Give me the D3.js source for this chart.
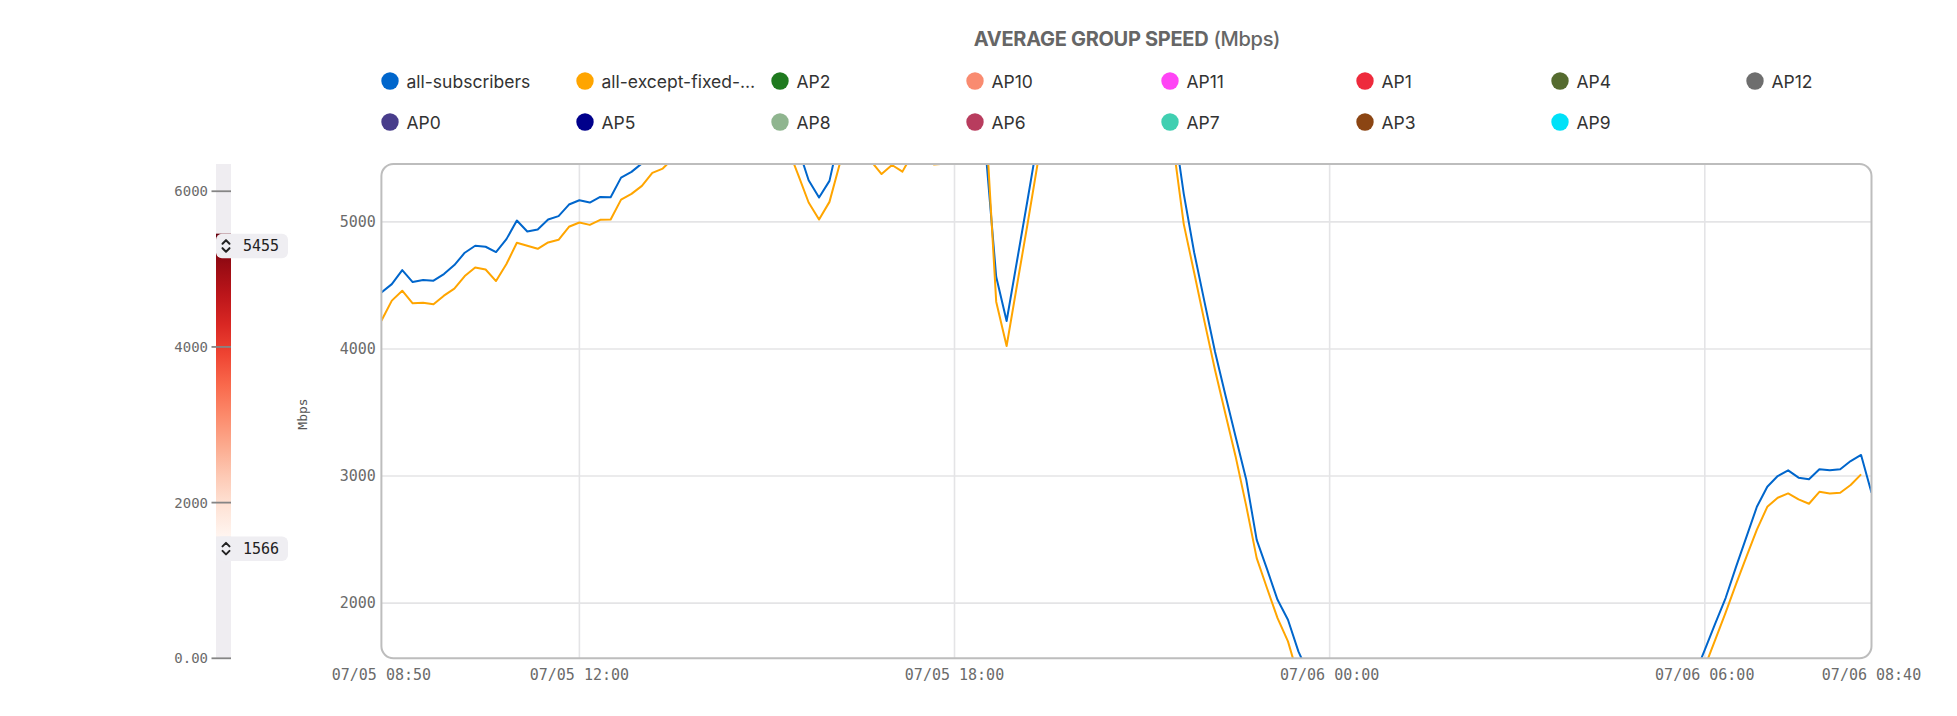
<!DOCTYPE html>
<html>
<head>
<meta charset="utf-8">
<script src="https://cdn.jsdelivr.net/npm/d3@7"></script>
<style>
  body { margin: 0; background: #fff; }
  svg { display: block; }
</style>
</head>
<body>
<svg id="chart" width="1957" height="716"></svg>
<script>
// ---------------- DATA ----------------
const startTime = "2024-07-05T08:50:00";
const stepMinutes = 10;

const legendNames = ["all-subscribers", "all-except-fixed-…", "AP2", "AP10", "AP11", "AP1", "AP4", "AP12",
                     "AP0", "AP5", "AP8", "AP6", "AP7", "AP3", "AP9"];
const legendColors = ["#0066cc", "#ffa500", "#1f7a1f", "#f98b70", "#ff44f5", "#ee2a3c", "#556b2f", "#6e6e6e",
                      "#483d8b", "#00008b", "#8fb58f", "#b83c5e", "#40cfb1", "#8b4513", "#00e1f8"];

const allSubscribers = [
  4445, 4510, 4620, 4526, 4542, 4537, 4589, 4660, 4757, 4812,
  4804, 4762, 4864, 5010, 4924, 4940, 5018, 5045, 5136, 5170,
  5152, 5196, 5194, 5348, 5393, 5460, 5540, 5620, 5700, 5770,
  5830, 5890, 5940, 5990, 6030, 6060, 6010, 5930, 5830, 5700,
  5580, 5327, 5191, 5322, 5690, 5730, 5710, 5650, 5550, 5620,
  5560, 5700, 5660, 5620, 5630, 5710, 5790, 5850, 5545, 4568,
  4220, 4694, 5168, 5650, 5850, 5980, 6100, 6200, 6280, 6330,
  6350, 6320, 6270, 6200, 6100, 5960, 5790, 5220, 4759, 4366,
  3978, 3635, 3302, 2970, 2498, 2265, 2026, 1869, 1620, 1440,
  1290, 1160, 1050, 950, 870, 800, 740, 690, 640, 600,
  570, 540, 510, 490, 470, 450, 440, 430, 425, 420,
  420, 430, 445, 460, 490, 520, 560, 610, 670, 740,
  820, 900, 990, 1090, 1200, 1310, 1430, 1632, 1838, 2040,
  2285, 2521, 2758, 2916, 3000, 3045, 2987, 2974, 3053, 3045,
  3053, 3118, 3166, 2868
];

const allExceptFixed = [
  4222, 4380, 4458, 4359, 4364, 4351, 4419, 4474, 4573, 4641,
  4625, 4534, 4668, 4835, 4812, 4788, 4838, 4859, 4961, 4995,
  4976, 5016, 5018, 5175, 5220, 5283, 5385, 5419, 5500, 5580,
  5650, 5710, 5770, 5820, 5860, 5890, 5840, 5770, 5680, 5580,
  5370, 5152, 5018, 5157, 5460, 5560, 5540, 5476, 5376, 5447,
  5395, 5540, 5490, 5452, 5456, 5540, 5620, 5700, 5800, 4372,
  4023, 4503, 4979, 5470, 5650, 5780, 5900, 6000, 6080, 6120,
  6140, 6110, 6060, 5990, 5880, 5760, 5600, 4982, 4599, 4211,
  3834, 3488, 3145, 2763, 2354, 2115, 1882, 1699, 1420, 1270,
  1140, 1020, 920, 840, 770, 710, 660, 610, 570, 540,
  510, 480, 460, 440, 420, 405, 395, 385, 380, 375,
  375, 385, 395, 410, 435, 465, 500, 545, 590, 650,
  720, 790, 870, 960, 1060, 1170, 1290, 1498, 1711, 1926,
  2150, 2366, 2579, 2758, 2829, 2863, 2816, 2782, 2876, 2863,
  2868, 2929, 3013, null
];

const brushRange = [1566, 5455];
const yTicks = [2000, 3000, 4000, 5000];
const barTicks = [0, 2000, 4000, 6000];
const barTickLabels = ["0.00", "2000", "4000", "6000"];
const xGridHours = ["2024-07-05T12:00:00", "2024-07-05T18:00:00", "2024-07-06T00:00:00", "2024-07-06T06:00:00"];

// ---------------- SETUP ----------------
const svg = d3.select("#chart");
const mono = "'DejaVu Sans Mono', monospace";
const sans = "Inter, 'Noto Sans', sans-serif";

const t0 = new Date(startTime);
const times = allSubscribers.map((_, i) => d3.timeMinute.offset(t0, i * stepMinutes));
const series = [
  { name: legendNames[0], color: legendColors[0], values: allSubscribers },
  { name: legendNames[1], color: legendColors[1], values: allExceptFixed }
];

const plot = { left: 381.4, right: 1871.5, top: 164, bottom: 658.3 };
const x = d3.scaleTime().domain([times[0], times[times.length - 1]]).range([plot.left, plot.right]);
const y = d3.scaleLinear().domain(brushRange).range([plot.bottom, plot.top]);

// ---------------- TITLE ----------------
const title = svg.append("text")
  .attr("x", 1127).attr("y", 40.5)
  .attr("text-anchor", "middle").attr("dominant-baseline", "middle")
  .attr("font-family", sans).attr("font-size", 20).attr("fill", "#666")
  .attr("letter-spacing", -0.3);
title.append("tspan").attr("font-weight", 700).text("AVERAGE GROUP SPEED");
title.append("tspan").attr("font-weight", 500).text(" (Mbps)");

// ---------------- LEGEND ----------------
const legend = svg.append("g");
legendNames.forEach((name, i) => {
  const col = i % 8, row = Math.floor(i / 8);
  const g = legend.append("g").attr("transform", `translate(${390 + col * 195},${81 + row * 41})`);
  g.append("circle").attr("r", 8.7).attr("fill", legendColors[i]);
  g.append("text").attr("x", 16.5).attr("y", 0).attr("dominant-baseline", "central")
    .attr("font-family", sans).attr("font-size", 17.5).attr("fill", "#333").text(name);
});

// ---------------- GRID ----------------
const grid = svg.append("g");
grid.selectAll(".hg").data(yTicks).join("line")
  .attr("x1", plot.left).attr("x2", plot.right)
  .attr("y1", d => y(d)).attr("y2", d => y(d))
  .attr("stroke", "#e4e4e6").attr("stroke-width", 1.6);
grid.selectAll(".vg").data(xGridHours.map(s => new Date(s))).join("line")
  .attr("x1", d => x(d)).attr("x2", d => x(d))
  .attr("y1", plot.top).attr("y2", plot.bottom)
  .attr("stroke", "#e4e4e6").attr("stroke-width", 1.6);

// ---------------- LINES ----------------
svg.append("defs").append("clipPath").attr("id", "clip")
  .append("rect").attr("x", plot.left).attr("y", plot.top)
  .attr("width", plot.right - plot.left).attr("height", plot.bottom - plot.top);

const line = d3.line()
  .defined(d => d.v != null)
  .x(d => x(d.t)).y(d => y(d.v));

const lines = svg.append("g").attr("clip-path", "url(#clip)");
series.forEach(s => {
  lines.append("path")
    .datum(s.values.map((v, i) => ({ t: times[i], v })))
    .attr("fill", "none").attr("stroke", s.color).attr("stroke-width", 2)
    .attr("stroke-linejoin", "round")
    .attr("d", line);
});

// border
svg.append("rect")
  .attr("x", plot.left).attr("y", plot.top)
  .attr("width", plot.right - plot.left).attr("height", plot.bottom - plot.top)
  .attr("rx", 12).attr("fill", "none").attr("stroke", "#bdbdbd").attr("stroke-width", 2);

// ---------------- AXES ----------------
const yAxis = svg.append("g");
yAxis.selectAll("text").data(yTicks).join("text")
  .attr("x", plot.left - 5.5).attr("y", d => y(d))
  .attr("text-anchor", "end").attr("dominant-baseline", "central")
  .attr("font-family", mono).attr("font-size", 15).attr("fill", "#6b6b6b")
  .text(d => d);

const fmt = d3.timeFormat("%m/%d %H:%M");
const xTickDates = [times[0], ...xGridHours.map(s => new Date(s)), times[times.length - 1]];
svg.append("g").selectAll("text").data(xTickDates).join("text")
  .attr("x", d => x(d)).attr("y", 675)
  .attr("text-anchor", "middle").attr("dominant-baseline", "central")
  .attr("font-family", mono).attr("font-size", 15).attr("fill", "#6b6b6b")
  .text(d => fmt(d));

// ---------------- COLOR BAR ----------------
const dataMax = d3.max([...allSubscribers, ...allExceptFixed]);
const cb = { x: 216, w: 15 };
const cy = d3.scaleLinear().domain([0, dataMax]).range([plot.bottom, plot.top]);
const color = d3.scaleSequential(d3.interpolateReds).domain(brushRange);

const grad = svg.select("defs").append("linearGradient").attr("id", "cbgrad")
  .attr("x1", 0).attr("x2", 0).attr("y1", 1).attr("y2", 0);
d3.range(0, 1.0001, 0.1).forEach(f => {
  grad.append("stop").attr("offset", f)
    .attr("stop-color", color(brushRange[0] + f * (brushRange[1] - brushRange[0])));
});

svg.append("rect").attr("x", cb.x).attr("y", cy(dataMax)).attr("width", cb.w)
  .attr("height", cy(0) - cy(dataMax)).attr("fill", "#efedf1");
svg.append("rect").attr("x", cb.x).attr("y", cy(brushRange[1])).attr("width", cb.w)
  .attr("height", cy(brushRange[0]) - cy(brushRange[1])).attr("fill", "url(#cbgrad)");

const cbt = svg.append("g");
barTicks.forEach((v, i) => {
  cbt.append("line").attr("x1", 211.5).attr("x2", cb.x + cb.w).attr("y1", cy(v)).attr("y2", cy(v))
    .attr("stroke", "#858585").attr("stroke-width", 1.8);
  cbt.append("text").attr("x", 208).attr("y", cy(v))
    .attr("text-anchor", "end").attr("dominant-baseline", "central")
    .attr("font-family", mono).attr("font-size", 14).attr("fill", "#6b6b6b")
    .text(barTickLabels[i]);
});

// handles
brushRange.forEach(v => {
  const top = cy(v);
  const g = svg.append("g").attr("transform", `translate(${cb.x},${top})`);
  g.append("rect").attr("x", 0).attr("y", 0).attr("width", 72).attr("height", 24.5)
    .attr("rx", 6).attr("fill", "#efeef2");
  g.append("path").attr("d", "M6.5,10 L10,6.5 L13.5,10 M6.5,14.5 L10,18 L13.5,14.5")
    .attr("fill", "none").attr("stroke", "#222").attr("stroke-width", 2)
    .attr("stroke-linecap", "round").attr("stroke-linejoin", "round");
  g.append("text").attr("x", 27).attr("y", 12.5).attr("dominant-baseline", "central")
    .attr("font-family", mono).attr("font-size", 15).attr("fill", "#222").text(v);
});

// Mbps label
svg.append("text").attr("transform", "translate(302,414) rotate(-90)")
  .attr("text-anchor", "middle").attr("dominant-baseline", "central")
  .attr("font-family", mono).attr("font-size", 13).attr("fill", "#555").text("Mbps");
</script>
</body>
</html>
